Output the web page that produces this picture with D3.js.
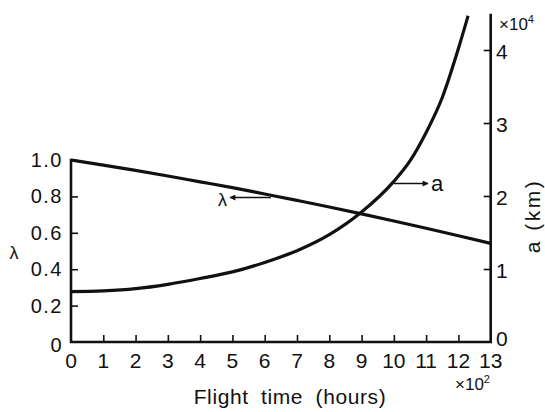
<!DOCTYPE html>
<html>
<head>
<meta charset="utf-8">
<script src="https://cdn.jsdelivr.net/npm/d3@7"></script>
<style>
  html, body { margin: 0; padding: 0; background: #fff; }
  svg { display: block; }
  text { font-family: "Liberation Sans", Arial, sans-serif; fill: #111; }
</style>
</head>
<body>
<svg id="chart" width="545" height="412"></svg>
<script>
// Flight time in units of 10^2 hours
const timeTicks = [0, 1, 2, 3, 4, 5, 6, 7, 8, 9, 10, 11, 12, 13];
const lambdaTicks = [0, 0.2, 0.4, 0.6, 0.8, 1.0];
const lambdaTickLabels = ["0", "0.2", "0.4", "0.6", "0.8", "1.0"];
const aTicks = [0, 1, 2, 3, 4];
const aTickLabels = ["0", "1", "2", "3", "4"];

// λ versus flight time
const lambdaTime = [0, 1, 2, 3, 4, 5, 6, 7, 8, 9, 10, 11, 12, 13];
const lambdaValues = [1.0, 0.972, 0.943, 0.912, 0.880, 0.848, 0.813, 0.778, 0.742, 0.704, 0.665, 0.625, 0.584, 0.542];

// semi-major axis a (units of 10^4 km) versus flight time
const aTime = [0, 1, 2, 3, 4, 5, 6, 7, 8, 9, 10, 10.5, 11, 11.5, 12, 12.3];
const aValues = [0.69, 0.70, 0.73, 0.79, 0.87, 0.96, 1.09, 1.25, 1.47, 1.78, 2.20, 2.48, 2.87, 3.35, 4.02, 4.47];

const svg = d3.select("#chart");
const ink = "#111";

const x = d3.scaleLinear().domain([0, 13]).range([71, 490.7]);
const yL = d3.scaleLinear().domain([0, 1]).range([342, 160]);
const yR = d3.scaleLinear().domain([0, 4]).range([342, 50]);

// inward tick marks
const tickStyle = g => {
  g.select(".domain").remove();
  g.selectAll(".tick line").attr("stroke", ink).attr("stroke-width", 1.6);
};
svg.append("g").attr("transform", `translate(${x(0)},0)`)
  .call(d3.axisRight(yL).tickValues(lambdaTicks.slice(1, -1)).tickSize(7).tickFormat(""))
  .call(tickStyle);
svg.append("g").attr("transform", `translate(0,${yL(0)})`)
  .call(d3.axisTop(x).tickValues(timeTicks.slice(1, -1)).tickSize(7).tickFormat(""))
  .call(tickStyle);
svg.append("g").attr("transform", `translate(${x(13)},0)`)
  .call(d3.axisLeft(yR).tickValues(aTicks.slice(1)).tickSize(7).tickFormat(""))
  .call(tickStyle);

// axis lines
const axisG = svg.append("g").attr("stroke", ink).attr("stroke-width", 2.6)
  .attr("fill", "none").attr("stroke-linecap", "square");
axisG.append("path").attr("d", `M${x(0)},${yL(1)} V${yL(0)} H${x(13)} V15`);

// curves
const line = d3.line().curve(d3.curveMonotoneX);
svg.append("path")
  .attr("d", line(lambdaTime.map((t, i) => [x(t), yL(lambdaValues[i])])))
  .attr("fill", "none").attr("stroke", ink).attr("stroke-width", 3.2);
svg.append("path")
  .attr("d", line(aTime.map((t, i) => [x(t), yR(aValues[i])])))
  .attr("fill", "none").attr("stroke", ink).attr("stroke-width", 3.2);

// tick labels
svg.append("g").selectAll("text").data(lambdaTicks).join("text")
  .attr("x", 63).attr("y", d => yL(d) + (d === 0 ? 3 : 0))
  .attr("text-anchor", "end").attr("dominant-baseline", "central")
  .attr("font-size", 20).attr("letter-spacing", 1.5)
  .text((d, i) => lambdaTickLabels[i]);

svg.append("g").selectAll("text").data(timeTicks).join("text")
  .attr("x", d => x(d)).attr("y", 368)
  .attr("text-anchor", "middle").attr("font-size", 21)
  .text(d => d);

svg.append("g").selectAll("text").data(aTicks).join("text")
  .attr("x", 496).attr("y", d => yR(d) + (d === 0 ? -4 : 1))
  .attr("dominant-baseline", "central").attr("font-size", 21)
  .text((d, i) => aTickLabels[i]);

// multipliers
const mul = (xp, yp, exp) => {
  const t = svg.append("text").attr("x", xp).attr("y", yp).attr("font-size", 17);
  t.append("tspan").text("×10");
  t.append("tspan").attr("dy", -7).attr("font-size", 11).text(exp);
};
mul(499, 30, "4");
mul(455, 390, "2");

// axis titles
svg.append("text").attr("x", 290).attr("y", 404).attr("text-anchor", "middle")
  .attr("font-size", 21).attr("letter-spacing", 0.6).attr("word-spacing", 6)
  .text("Flight time (hours)");
svg.append("text").attr("x", 14).attr("y", 253).attr("text-anchor", "middle")
  .attr("dominant-baseline", "central").attr("font-size", 18).text("λ");
svg.append("text").attr("transform", "translate(532,216) rotate(-90)")
  .attr("text-anchor", "middle").attr("dominant-baseline", "central")
  .attr("font-size", 21).attr("letter-spacing", 2.5).text("a (km)");

// curve callouts with arrows
svg.append("defs").append("marker").attr("id", "head")
  .attr("viewBox", "0 0 10 10").attr("refX", 9).attr("refY", 5)
  .attr("markerWidth", 8).attr("markerHeight", 6).attr("markerUnits", "userSpaceOnUse")
  .attr("orient", "auto")
  .append("path").attr("d", "M0,0 L10,5 L0,10 Z").attr("fill", ink);

svg.append("line").attr("x1", 271).attr("y1", 197.5).attr("x2", 230).attr("y2", 197.5)
  .attr("stroke", ink).attr("stroke-width", 1.5).attr("marker-end", "url(#head)");
svg.append("text").attr("x", 222.5).attr("y", 200).attr("text-anchor", "middle")
  .attr("dominant-baseline", "central").attr("font-size", 18).text("λ");

svg.append("line").attr("x1", 394).attr("y1", 183.5).attr("x2", 428).attr("y2", 183.5)
  .attr("stroke", ink).attr("stroke-width", 1.5).attr("marker-end", "url(#head)");
svg.append("text").attr("x", 431).attr("y", 183).attr("dominant-baseline", "central")
  .attr("font-size", 22).text("a");
</script>
</body>
</html>
